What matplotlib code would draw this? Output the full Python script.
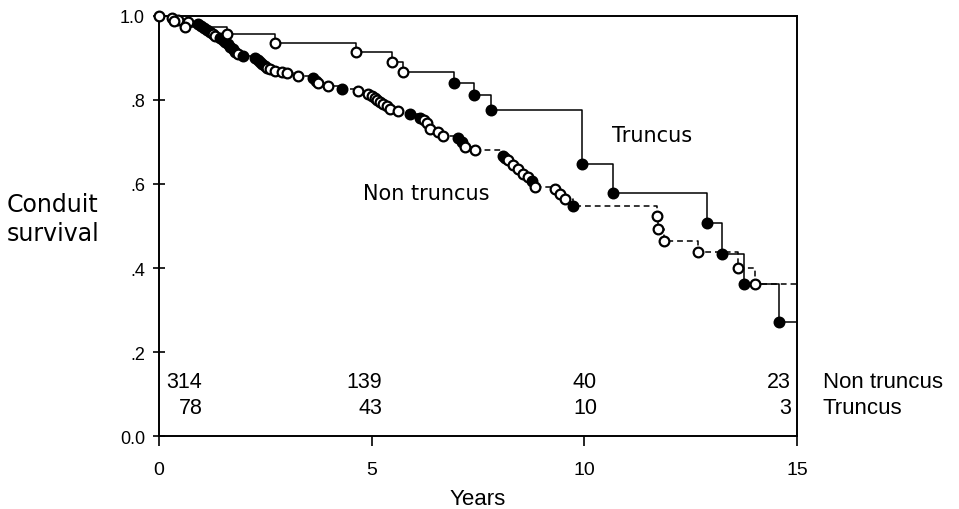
import matplotlib.pyplot as plt

plt.rcParams.update({
    "font.family": ["Liberation Sans", "DejaVu Sans"],
    "axes.linewidth": 1.4,
})

WIDE = ["DejaVu Sans"]

# Non truncus conduits: event time (years) and survival after the event
nt_years = [0.00, 0.31, 0.45, 0.68, 0.92, 0.98, 1.06, 1.12, 1.20, 1.26,
            1.32, 1.43, 1.50, 1.55, 1.62, 1.67, 1.73, 1.79, 1.86, 1.97,
            2.26, 2.32, 2.37, 2.43, 2.49, 2.55, 2.61, 2.73, 2.89, 3.01,
            3.27, 3.62, 3.69, 3.74, 3.97, 4.30, 4.68, 4.91, 5.01, 5.07,
            5.13, 5.20, 5.27, 5.35, 5.43, 5.62, 5.90, 6.14, 6.22, 6.30,
            6.37, 6.56, 6.68, 7.03, 7.12, 7.19, 7.43, 8.09, 8.14, 8.21,
            8.32, 8.44, 8.56, 8.68, 8.77, 8.84, 9.31, 9.43, 9.55, 9.73,
            11.71, 11.73, 11.87, 12.67, 13.61, 14.01]
nt_surv = [1.000, 0.995, 0.990, 0.985, 0.981, 0.976, 0.971, 0.966, 0.962, 0.957,
           0.953, 0.948, 0.943, 0.938, 0.933, 0.927, 0.921, 0.915, 0.910, 0.905,
           0.900, 0.895, 0.890, 0.886, 0.881, 0.877, 0.873, 0.869, 0.867, 0.864,
           0.858, 0.853, 0.846, 0.840, 0.833, 0.827, 0.821, 0.815, 0.810, 0.805,
           0.800, 0.796, 0.791, 0.785, 0.779, 0.774, 0.767, 0.757, 0.752, 0.745,
           0.731, 0.724, 0.714, 0.710, 0.700, 0.688, 0.680, 0.667, 0.662, 0.657,
           0.645, 0.636, 0.624, 0.617, 0.607, 0.593, 0.588, 0.576, 0.564, 0.548,
           0.524, 0.493, 0.464, 0.438, 0.400, 0.362]
nt_solid = [0, 0, 0, 0, 1, 1, 1, 1, 1, 0,
            0, 1, 1, 1, 1, 1, 1, 1, 0, 1,
            1, 1, 1, 1, 1, 0, 0, 0, 0, 0,
            0, 1, 1, 0, 0, 1, 0, 0, 0, 0,
            0, 0, 0, 0, 0, 0, 1, 1, 0, 0,
            0, 0, 0, 1, 1, 0, 0, 1, 1, 0,
            0, 0, 0, 0, 1, 0, 0, 0, 0, 1,
            0, 0, 0, 0, 0, 0]

# Truncus conduits
tr_years = [0.35, 0.61, 1.60, 2.73, 4.63, 5.48, 5.74, 6.93, 7.40, 7.80,
            9.95, 10.67, 12.88, 13.24, 13.75, 14.58]
tr_surv = [0.987, 0.974, 0.958, 0.936, 0.914, 0.890, 0.867, 0.840, 0.812, 0.776,
           0.648, 0.579, 0.507, 0.433, 0.362, 0.271]
tr_solid = [0, 0, 0, 0, 0, 0, 0, 1, 1, 1,
            1, 1, 1, 1, 1, 1]

# patients at risk
risk_years = [0, 5, 10, 15]
nt_at_risk = [314, 139, 40, 23]
tr_at_risk = [78, 43, 10, 3]

x_ticks = [0, 5, 10, 15]
y_ticks = [0.0, 0.2, 0.4, 0.6, 0.8, 1.0]
y_tick_labels = ["0.0", ".2", ".4", ".6", ".8", "1.0"]

X_MAX = 15


def draw_curve(ax, years, surv, solid, ls):
    xs = [0] + list(years) + [X_MAX]
    ys = [1.0] + list(surv) + [surv[-1]]
    line, = ax.step(xs, ys, where="post", color="black", lw=1.1, zorder=2)
    if ls == "dashed":
        line.set_dashes((3.8, 2.6))
    for x, y, f in zip(years, surv, solid):
        ax.plot(x, y, marker="o", ms=7, mew=1.6, mec="black",
                mfc="black" if f else "white", zorder=3, clip_on=False)


fig = plt.figure(figsize=(9.59, 5.10), dpi=100)
ax = fig.add_axes([0.1658, 0.1431, 0.8311 - 0.1658, 0.9667 - 0.1431])

draw_curve(ax, nt_years, nt_surv, nt_solid, "dashed")
draw_curve(ax, tr_years, tr_surv, tr_solid, "solid")

ax.set_xlim(0, X_MAX)
ax.set_ylim(0, 1.0)
ax.set_xticks(x_ticks)
ax.set_xticklabels([str(t) for t in x_ticks], fontsize=14)
ax.set_yticks(y_ticks)
ax.set_yticklabels(y_tick_labels, fontsize=13)
ax.tick_params(axis="x", direction="out", length=7, width=1.2, pad=11)
ax.tick_params(axis="y", direction="inout", length=8, width=1.2, pad=6)

ax.set_xlabel("Years", fontsize=16, labelpad=7)
fig.text(7 / 959, 0.569, "Conduit\nsurvival", family=WIDE, ha="left",
         va="center", multialignment="left", fontsize=17, linespacing=1.25)

ax.text(10.65, 0.702, "Truncus", family=WIDE, fontsize=15, va="baseline")
ax.text(4.80, 0.564, "Non truncus", family=WIDE, fontsize=15, va="baseline")

# numbers at risk under the curves
label_x = [1.02, 5.25, 10.3, 14.86]
for x, n_nt, n_tr in zip(label_x, nt_at_risk, tr_at_risk):
    ax.text(x, 0.129, str(n_nt), ha="right", va="center", fontsize=15.5)
    ax.text(x, 0.067, str(n_tr), ha="right", va="center", fontsize=15.5)
ax.text(15.6, 0.129, "Non truncus", ha="left", va="center", fontsize=16,
        clip_on=False)
ax.text(15.6, 0.067, "Truncus", ha="left", va="center", fontsize=16,
        clip_on=False)

fig.savefig("out.png", dpi=100)
